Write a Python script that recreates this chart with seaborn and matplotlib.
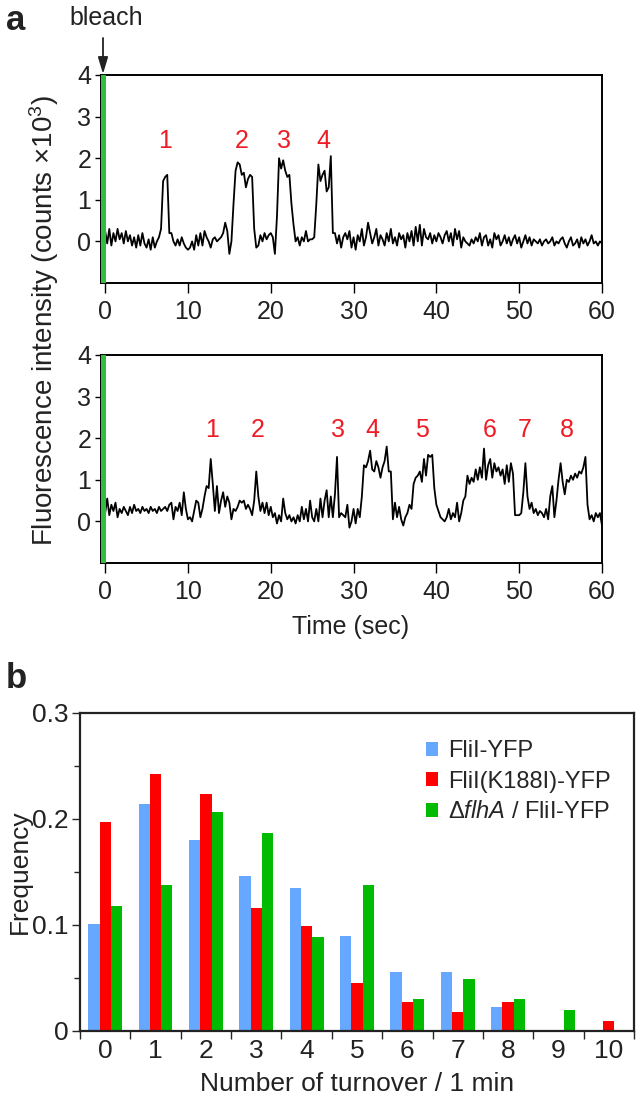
"""
FliI-YFP turnover: two fluorescence traces after photobleaching (a)
and the turnover-count histogram for three strains (b).
"""

import numpy as np
import pandas as pd
import matplotlib
matplotlib.use("Agg")
import matplotlib.pyplot as plt
import seaborn as sns
from matplotlib.ticker import FixedLocator, MultipleLocator

# ---- panel a: traces, sampled every 0.25 s (counts x 10^3) ----
STEP = 0.25
trace_top = (
    [0.25, -0.05, 0.3, -0.1, 0.2, 0.0, 0.3, 0.05, 0.2, -0.05, 0.25, 0.0, 0.15, -0.1, 0.1, -0.15, 0.15, -0.1, 0.2, -0.05]
    + [-0.15, 0.05, -0.2, 0.1, -0.15, 0.0, 0.1, 0.3, 1.45, 1.55, 1.6, 0.2, 0.2, 0.0, -0.1, 0.05, -0.1, 0.1, -0.05, -0.15]
    + [-0.2, -0.15, 0.0, -0.2, 0.15, -0.1, 0.2, -0.1, 0.25, 0.1, 0.0, -0.15, 0.05, 0.1, 0.0, 0.05, 0.1, 0.2, 0.45, 0.25]
    + [-0.3, 0.0, 0.9, 1.7, 1.9, 1.85, 1.6, 1.65, 1.3, 1.5, 1.6, 1.55, 0.3, -0.15, -0.1, 0.15, 0.0, 0.2, 0.05, 0.15]
    + [0.2, 0.1, -0.3, 0.6, 2.0, 1.75, 1.95, 1.7, 1.55, 1.6, 0.9, 0.4, 0.0, 0.1, -0.1, 0.1, 0.0, 0.25, 0.0, 0.05]
    + [0.05, 0.1, 0.9, 1.85, 1.45, 1.6, 1.7, 1.2, 1.3, 2.05, 0.2, 0.2, -0.05, 0.15, -0.15, 0.1, 0.2, 0.05, 0.25, -0.15]
    + [0.1, -0.2, 0.15, 0.0, 0.3, -0.1, 0.1, 0.45, 0.2, -0.05, 0.1, 0.3, -0.1, 0.15, 0.05, -0.1, 0.2, 0.0, 0.3, -0.05]
    + [0.1, -0.1, 0.2, 0.05, 0.15, -0.15, 0.2, 0.0, 0.25, -0.1, 0.35, 0.0, 0.4, -0.1, 0.3, 0.1, 0.05, 0.2, -0.05, 0.15]
    + [0.0, 0.2, 0.1, -0.05, 0.15, 0.25, 0.0, 0.2, -0.1, 0.3, 0.05, 0.25, -0.15, 0.1, 0.0, -0.05, -0.1, 0.05, -0.05, 0.1]
    + [0.0, 0.2, -0.1, 0.1, 0.15, -0.1, 0.05, -0.15, 0.2, 0.05, 0.15, -0.1, 0.0, 0.15, -0.05, 0.1, -0.1, 0.05, 0.15, -0.05]
    + [0.1, -0.15, 0.0, 0.15, -0.05, 0.1, -0.1, 0.05, 0.0, -0.05, 0.05, -0.1, 0.0, 0.05, -0.05, 0.0, 0.1, -0.1, 0.0, -0.05]
    + [0.05, 0.1, -0.05, -0.15, 0.0, 0.1, -0.1, -0.05, 0.05, -0.15, 0.1, -0.05, 0.05, -0.1, 0.0, 0.15, -0.05, 0.0, -0.1, 0.0]
    + [-0.05]
)
trace_bottom = (
    [0.2, 0.55, 0.15, 0.4, 0.25, 0.45, 0.1, 0.3, 0.2, 0.35, 0.25, 0.15, 0.35, 0.2, 0.4, 0.25, 0.3, 0.2, 0.35, 0.25]
    + [0.3, 0.2, 0.35, 0.25, 0.3, 0.2, 0.35, 0.25, 0.3, 0.35, 0.25, 0.4, 0.45, 0.05, 0.35, 0.25, 0.45, 0.15, 0.7, 0.3]
    + [0.05, 0.1, 0.0, 0.25, 0.5, 0.45, 0.1, 0.3, 0.6, 0.85, 0.8, 1.5, 0.9, 0.25, 0.85, 0.2, 0.5, 0.7, 0.35, 0.6]
    + [0.45, 0.05, 0.3, 0.25, 0.35, 0.5, 0.45, 0.5, 0.3, 0.4, 0.3, 0.15, 0.5, 1.2, 0.6, 0.25, 0.45, 0.2, 0.45, 0.15]
    + [0.35, 0.1, 0.2, -0.05, 0.15, 0.0, 0.55, 0.2, 0.05, 0.15, 0.0, 0.1, -0.05, 0.15, 0.0, 0.35, 0.05, 0.3, 0.0, 0.5]
    + [0.1, 0.0, 0.3, 0.0, 0.55, 0.1, 0.5, 0.75, 0.1, 0.6, 0.1, 0.65, 1.55, 0.1, 0.2, 0.15, 0.1, 0.4, -0.15, 0.0]
    + [0.3, -0.05, 0.3, 0.1, 0.6, 1.35, 1.3, 1.45, 1.7, 1.25, 1.2, 1.45, 1.3, 1.05, 1.3, 1.45, 1.8, 1.2, 1.2, 0.05]
    + [0.45, 0.1, 0.35, 0.05, -0.1, 0.1, 0.2, 0.4, 0.3, 0.9, 1.05, 1.1, 1.2, 0.95, 1.5, 1.1, 1.6, 1.55, 1.6, 0.8]
    + [0.4, 0.25, 0.1, 0.05, 0.0, 0.1, 0.3, 0.05, 0.2, 0.1, 0.45, 0.0, 0.2, 0.5, 0.6, 1.1, 0.9, 1.05, 0.95, 1.25]
    + [1.0, 1.3, 1.05, 1.75, 1.0, 1.35, 1.5, 1.05, 1.4, 1.2, 1.3, 1.1, 1.25, 0.9, 1.35, 0.95, 1.4, 1.15, 0.15, 0.15]
    + [0.15, 0.2, 0.7, 1.4, 0.6, 0.3, 0.45, 0.2, 0.3, 0.15, 0.25, 0.2, 0.1, 0.3, 0.05, 0.6, 0.85, 0.1, 0.5, 1.0]
    + [1.4, 0.95, 0.65, 1.0, 0.95, 1.1, 1.0, 1.15, 1.05, 1.2, 1.15, 1.3, 1.55, 0.4, 0.05, 0.15, 0.0, 0.2, 0.1, 0.2]
    + [-0.1]
)
# event numbers and their x positions (sec)
events_top_x = [7.2, 16.5, 21.6, 26.4]
events_bottom_x = [12.9, 18.4, 28.1, 32.3, 38.2, 46.4, 50.7, 55.7]

# ---- panel b: turnover histogram ----
turnover = [str(i) for i in range(11)]
freq_wt = [0.101, 0.214, 0.180, 0.146, 0.135, 0.090, 0.056, 0.056, 0.023, 0.0, 0.0]
freq_k188i = [0.197, 0.242, 0.224, 0.116, 0.099, 0.045, 0.027, 0.018, 0.027, 0.0, 0.009]
freq_dflha = [0.118, 0.138, 0.207, 0.187, 0.089, 0.138, 0.030, 0.049, 0.030, 0.020, 0.0]
strains = ["FliI-YFP", "FliI(K188I)-YFP", r"$\Delta\mathit{flhA}$ / FliI-YFP"]
colors = ["#66A8FF", "#FF0000", "#00BB00"]

sns.set_theme(style="ticks")
plt.rcParams["font.family"] = ["Liberation Sans", "DejaVu Sans"]
plt.rcParams["mathtext.fontset"] = "custom"
plt.rcParams["mathtext.rm"] = "Liberation Sans"
plt.rcParams["mathtext.it"] = "Liberation Sans:italic"
plt.rcParams["mathtext.default"] = "regular"

FS_A = 18     # panel a text
FS_B = 19     # panel b ticks / labels
FS_LEG = 17
INK = "#222222"
W, H = 641, 1101
fig = plt.figure(figsize=(W / 100, H / 100), dpi=100)


def fig_rect(left, top, right, bottom):
    return [left / W, 1 - bottom / H, (right - left) / W, (bottom - top) / H]


def fig_xy(x, y):
    return x / W, 1 - y / H


def draw_trace(ax, values, ev_x, ev_y):
    t = np.arange(len(values)) * STEP
    sns.lineplot(x=t, y=values, ax=ax, color="black", linewidth=1.3,
                 estimator=None)
    ax.axvspan(-0.5, 0.12, color="#33BB44", lw=0, zorder=3)
    ax.set_xlim(-0.5, 60)
    ax.set_ylim(-1, 4)
    ax.set_xticks(range(0, 61, 10))
    ax.set_yticks(range(0, 5))
    ax.tick_params(axis="both", labelsize=FS_A, direction="out", width=1.0,
                   color="black", labelcolor=INK)
    ax.tick_params(axis="x", length=7, pad=5)
    ax.tick_params(axis="y", length=4, pad=3)
    for s in ax.spines.values():
        s.set_linewidth(1.4)
        s.set_color("black")
    for i, x in enumerate(ev_x):
        ax.text(x, ev_y, str(i + 1), color="#EE1C25", fontsize=FS_A,
                ha="center", va="center")
    ax.set_xlabel("")
    ax.set_ylabel("")


ax1 = fig.add_axes(fig_rect(101, 75, 602, 283))
draw_trace(ax1, trace_top, events_top_x, 2.42)
ax2 = fig.add_axes(fig_rect(101, 355, 602, 563))
draw_trace(ax2, trace_bottom, events_bottom_x, 2.2)

fig.text(*fig_xy(44, 320), "Fluorescence intensity (counts \u00d710$^{3}$)",
         rotation=90, ha="center", va="center", fontsize=20, color=INK)
fig.text(*fig_xy(351, 627), "Time (sec)", ha="center", va="center",
         fontsize=FS_A, color=INK)
fig.text(*fig_xy(6, 20), "a", ha="left", va="center", fontsize=25,
         fontweight="bold", color=INK)
fig.text(*fig_xy(106, 18), "bleach", ha="center", va="center",
         fontsize=FS_A, color=INK)
fig.add_artist(matplotlib.patches.FancyArrowPatch(
    fig_xy(103, 38), fig_xy(103, 74), transform=fig.transFigure,
    arrowstyle="-|>,head_length=10,head_width=3", color=INK, lw=1.3,
    shrinkA=0, shrinkB=0))

# ---- panel b ----
df = pd.DataFrame({
    "turnover": turnover * 3,
    "freq": freq_wt + freq_k188i + freq_dflha,
    "strain": [strains[0]] * 11 + [strains[1]] * 11 + [strains[2]] * 11,
})
ax3 = fig.add_axes(fig_rect(80, 713, 634, 1031))
sns.barplot(data=df, x="turnover", y="freq", hue="strain", order=turnover,
            hue_order=strains, palette=colors, width=0.67, gap=0,
            linewidth=0, saturation=1, ax=ax3)
ax3.set_xlim(-0.5, 10.5)
ax3.set_ylim(0, 0.3)
ax3.set_yticks([0, 0.1, 0.2, 0.3])
ax3.set_yticklabels(["0", "0.1", "0.2", "0.3"])
ax3.yaxis.set_minor_locator(MultipleLocator(0.05))
ax3.xaxis.set_minor_locator(FixedLocator(np.arange(-0.5, 11, 1.0)))
ax3.tick_params(axis="x", which="major", length=0, pad=5.5, labelsize=FS_B,
                labelcolor=INK)
ax3.tick_params(axis="x", which="minor", length=6, width=1.0, direction="out")
ax3.tick_params(axis="y", which="major", length=6, width=1.0, pad=2,
                labelsize=FS_B, labelcolor=INK)
ax3.tick_params(axis="y", which="minor", length=4, width=1.0)
for s in ax3.spines.values():
    s.set_linewidth(1.6)
    s.set_color(INK)
ax3.set_xlabel("")
ax3.set_ylabel("")
fig.text(*fig_xy(357, 1084), "Number of turnover / 1 min", ha="center",
         va="center", fontsize=FS_B, color=INK)
fig.text(*fig_xy(20, 872), "Frequency", rotation=90, ha="center",
         va="center", fontsize=FS_B, color=INK)
ax3.legend(loc="upper left", bbox_to_anchor=fig_xy(426, 740),
           bbox_transform=fig.transFigure, frameon=False, fontsize=FS_LEG,
           handlelength=0.52, handleheight=0.52, handletextpad=0.4,
           labelspacing=0.37, borderpad=0, borderaxespad=0)
fig.text(*fig_xy(6, 678), "b", ha="left", va="center", fontsize=25,
         fontweight="bold", color=INK)

fig.savefig("out.png", dpi=100)
